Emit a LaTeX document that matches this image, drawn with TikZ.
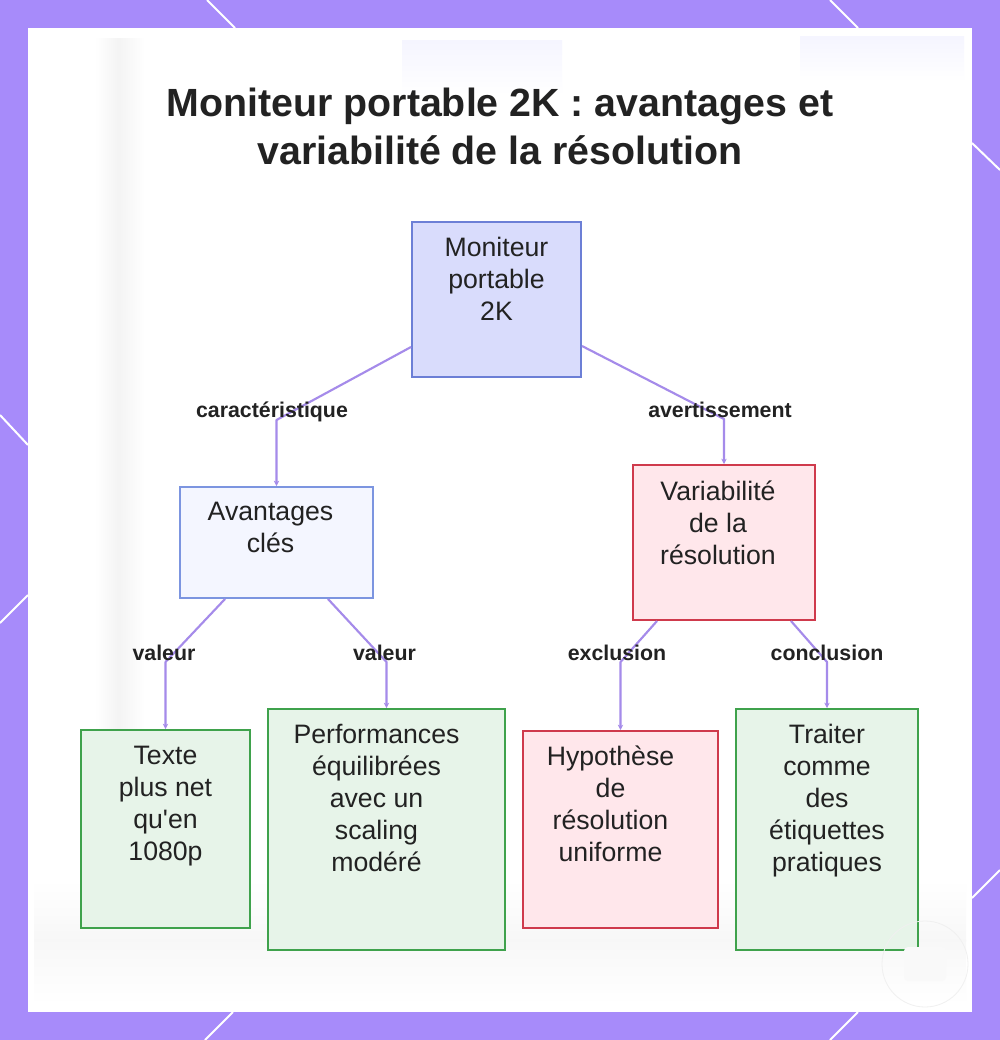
\documentclass[tikz,border=0pt]{standalone}
\usepackage{fontspec}
\setmainfont{Liberation Sans}[Ligatures=TeXOff]
\usetikzlibrary{calc,arrows.meta}
\definecolor{framec}{HTML}{A78BFA}
\definecolor{edgec}{HTML}{A58BEA}
\definecolor{txtc}{HTML}{222222}
\definecolor{rootfill}{HTML}{D9DCFC}
\definecolor{rootdraw}{HTML}{6C7FD6}
\definecolor{avafill}{HTML}{F4F6FF}
\definecolor{avadraw}{HTML}{7C95E0}
\definecolor{redfill}{HTML}{FFE7EB}
\definecolor{reddraw}{HTML}{CF3A4C}
\definecolor{greenfill}{HTML}{E7F4E9}
\definecolor{greendraw}{HTML}{3FA24C}
\tikzset{
  sz/.style 2 args={minimum width=#1*0.75pt, minimum height=#2*0.75pt},
  boxbase/.style={rectangle, inner sep=0pt, line width=1.5pt},
  rootbox/.style={boxbase, fill=rootfill, draw=rootdraw},
  avabox/.style={boxbase, fill=avafill, draw=avadraw},
  redbox/.style={boxbase, fill=redfill, draw=reddraw},
  greenbox/.style={boxbase, fill=greenfill, draw=greendraw},
  boxtext/.style={anchor=north, inner sep=0pt, align=center, text=txtc, font=\fontsize{20}{24}\selectfont},
  elabel/.style={anchor=base, inner sep=0pt, text=txtc, font=\fontsize{16}{19}\selectfont\bfseries},
  edge/.style={draw=edgec, line width=1.6pt, line join=round, -{Stealth[length=4pt,width=4pt]}},
  diag/.style={draw=white, line width=1.5pt},
}
\begin{document}
\begin{tikzpicture}[x=0.75pt,y=-0.75pt]
\useasboundingbox (0,0) rectangle (1000,1040);
% frame and panel
\fill[framec] (0,0) rectangle (1000,1040);
\fill[white] (28,28) rectangle (972,1012);
% faint blurred background hints
\shade[left color=white, right color=gray!9] (95,38) rectangle (118,920);
\shade[left color=gray!9, right color=white] (118,38) rectangle (145,920);
\shade[top color=blue!4, bottom color=white] (402,40) rectangle (562,95);
\shade[top color=blue!4, bottom color=white] (800,36) rectangle (964,82);
\shade[top color=white, bottom color=gray!6] (34,880) rectangle (966,940);
\shade[top color=gray!6, bottom color=white] (34,940) rectangle (966,1005);
% diagonal white lines on the frame
\draw[diag] (207,0) -- (235,28);
\draw[diag] (830,0) -- (858,28);
\draw[diag] (972,143) -- (1000,170);
\draw[diag] (0,415) -- (28,445);
\draw[diag] (28,595) -- (0,623);
\draw[diag] (233,1012) -- (205,1040);
\draw[diag] (858,1012) -- (830,1040);
\draw[diag] (972,898) -- (1000,870);
% title
\node[anchor=north, inner sep=0pt, align=center, text=txtc, font=\fontsize{29.5}{36}\selectfont\bfseries] (title) at (500,88)
  {Moniteur portable 2K : avantages et\\variabilité de la résolution};
% boxes
\node[rootbox, sz={169}{155}] (root) at (496.5,299.5) {};
\node[avabox, sz={193}{111}] (ava) at (276.5,542.5) {};
\node[redbox, sz={182}{155}] (var) at (724,542.5) {};
\node[greenbox, sz={169}{198}] (tex) at (165.5,829) {};
\node[greenbox, sz={237}{241}] (perf) at (386.5,829.5) {};
\node[redbox, sz={195}{197}] (hyp) at (620.5,829.5) {};
\node[greenbox, sz={182}{241}] (trait) at (827,829.5) {};
% box texts
\node[boxtext] (rootT) at ($(root.north)+(0,16)$) {Moniteur\\portable\\2K};
\node[boxtext] (avaT) at ($(ava.north)+(-6,16)$) {Avantages\\clés};
\node[boxtext] (varT) at ($(var.north)+(-6,17)$) {Variabilité\\de la\\résolution};
\node[boxtext] (texT) at ($(tex.north)+(0,17)$) {Texte\\plus net\\qu'en\\1080p};
\node[boxtext] (perfT) at ($(perf.north)+(-10,16)$) {Performances\\équilibrées\\avec un\\scaling\\modéré};
\node[boxtext] (hypT) at ($(hyp.north)+(-10,16)$) {Hypothèse\\de\\résolution\\uniforme};
\node[boxtext] (traitT) at ($(trait.north)+(0,16)$) {Traiter\\comme\\des\\étiquettes\\pratiques};
% connectors
\draw[edge] ($(root.south west)+(0,-31)$) -- ($(ava.north)+(0,-66)$) -- (ava.north);
\draw[edge] ($(root.south east)+(0,-32)$) -- ($(var.north)+(0,-45)$) -- (var.north);
\draw[edge] ($(ava.south west)+(46,0)$) -- ($(tex.north)+(0,-67)$) -- (tex.north);
\draw[edge] ($(ava.south east)+(-46,0)$) -- ($(perf.north)+(0,-46)$) -- (perf.north);
\draw[edge] ($(var.south west)+(25,0)$) -- ($(hyp.north)+(0,-68)$) -- (hyp.north);
\draw[edge] ($(var.south east)+(-25,0)$) -- ($(trait.north)+(0,-46)$) -- (trait.north);
% connector labels
\node[elabel] (l1) at (272,417) {caractéristique};
\node[elabel] (l2) at (720,417) {avertissement};
\node[elabel] (l3) at (164,660) {valeur};
\node[elabel] (l4) at (384.5,660) {valeur};
\node[elabel] (l5) at (617,660) {exclusion};
\node[elabel] (l6) at (827,660) {conclusion};
% faint watermark at bottom right
\fill[gray!5, rounded corners=3pt] (904,947) rectangle (946,981);
\draw[gray!12, line width=0.6pt] (925,964) circle[radius=43];
\end{tikzpicture}
\end{document}
